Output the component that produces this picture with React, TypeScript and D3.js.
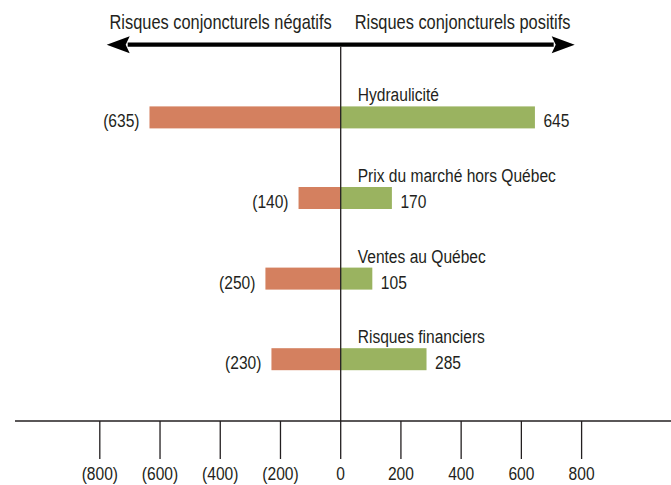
import * as d3 from "d3";

const width = 671;
const height = 485;

const categories = ["Hydraulicité", "Prix du marché hors Québec", "Ventes au Québec", "Risques financiers"];
const negativeValues = [-635, -140, -250, -230];
const positiveValues = [645, 170, 105, 285];
const tickValues = [-800, -600, -400, -200, 0, 200, 400, 600, 800];
const leftTitle = "Risques conjoncturels négatifs";
const rightTitle = "Risques conjoncturels positifs";

const FONT = "'Liberation Sans', Arial, sans-serif";
const NARROW = 0.82; // squeeze to mimic a condensed face
const INK = "#231f20";
const NEG = "#d4805f";
const POS = "#9ab360";

const fmt = (d: number) => (d < 0 ? `(${-d})` : `${d}`);

type TProps = { x: number; y: number; size?: number; anchor?: "start" | "middle" | "end"; children: string };
const Narrow = ({ x, y, size = 19, anchor = "start", children }: TProps) => (
  <text
    transform={`translate(${x},${y}) scale(${NARROW},1)`}
    textAnchor={anchor}
    fontFamily={FONT}
    fontSize={size}
    fill={INK}
  >
    {children}
  </text>
);

export default function App() {
  const x = d3.scaleLinear().domain([-800, 800]).range([99.8, 581.6]);
  const y = d3.scalePoint<string>().domain(categories).range([117.4, 359.2]);
  const barH = 22;
  const x0 = x(0);
  const axisY = 421;
  const arrowY = 44.7;
  const arrowHalf = 234; // tip distance from centre
  const headLen = 23;
  const headW = 8.5;

  return (
    <svg width={width} height={height} style={{ position: "absolute", left: 0, top: 0, background: "#fff" }}>
      {/* titles */}
      <Narrow x={x0 - 9} y={28.5} size={20} anchor="end">{leftTitle}</Narrow>
      <Narrow x={x0 + 14} y={28.5} size={20}>{rightTitle}</Narrow>

      {/* double arrow */}
      <line x1={x0 - arrowHalf + headLen - 2} x2={x0 + arrowHalf - headLen + 2} y1={arrowY} y2={arrowY} stroke="#000" strokeWidth={4.2} />
      <path d={`M${x0 - arrowHalf},${arrowY} L${x0 - arrowHalf + headLen},${arrowY - headW} L${x0 - arrowHalf + headLen - 4},${arrowY} L${x0 - arrowHalf + headLen},${arrowY + headW} Z`} fill="#000" />
      <path d={`M${x0 + arrowHalf},${arrowY} L${x0 + arrowHalf - headLen},${arrowY - headW} L${x0 + arrowHalf - headLen + 4},${arrowY} L${x0 + arrowHalf - headLen},${arrowY + headW} Z`} fill="#000" />

      {/* bars */}
      {categories.map((c, i) => {
        const cy = y(c) as number;
        const xn = x(negativeValues[i]);
        const xp = x(positiveValues[i]);
        return (
          <g key={c}>
            <rect x={xn} y={cy - barH / 2} width={x0 - xn} height={barH} fill={NEG} />
            <rect x={x0} y={cy - barH / 2} width={xp - x0} height={barH} fill={POS} />
            <Narrow x={x0 + 17} y={cy - barH / 2 - 5}>{c}</Narrow>
            <Narrow x={xp + 8.5} y={cy + 10}>{fmt(positiveValues[i])}</Narrow>
            <Narrow x={xn - 10} y={cy + 10} anchor="end">{fmt(negativeValues[i])}</Narrow>
          </g>
        );
      })}

      {/* centre line */}
      <line x1={x0} x2={x0} y1={arrowY + 2} y2={axisY} stroke={INK} strokeWidth={1.3} />

      {/* axis */}
      <line x1={15} x2={width} y1={axisY} y2={axisY} stroke={INK} strokeWidth={1.3} />
      {tickValues.map((t) => (
        <g key={t}>
          <line x1={x(t)} x2={x(t)} y1={axisY} y2={459} stroke={INK} strokeWidth={1.3} />
          <Narrow x={x(t)} y={479.5} anchor="middle">{fmt(t)}</Narrow>
        </g>
      ))}
    </svg>
  );
}
